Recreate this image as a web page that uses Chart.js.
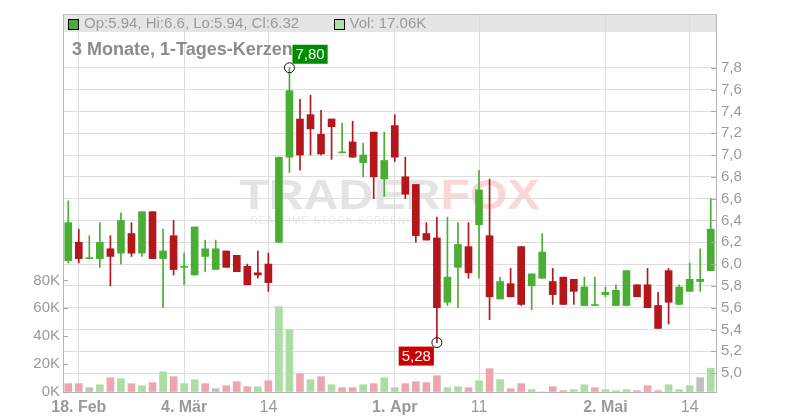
<!DOCTYPE html>
<html lang="de">
<head>
  <meta charset="UTF-8">
  <title>3 Monate, 1-Tages-Kerzen</title>
  <script src="https://cdn.jsdelivr.net/npm/chart.js"></script>
  <style>
    body { margin: 0; background: #fff; }
    canvas { display: block; }
  </style>
</head>
<body>
  <canvas id="kurs" width="800" height="420"></canvas>

  <script>
    const dates = [
      '17.02.', '18.02.', '19.02.', '20.02.', '21.02.', '24.02.', '25.02.', '26.02.', '27.02.', '28.02.',
      '03.03.', '04.03.', '05.03.', '06.03.', '07.03.', '10.03.', '11.03.', '12.03.', '13.03.', '14.03.',
      '17.03.', '18.03.', '19.03.', '20.03.', '21.03.', '24.03.', '25.03.', '26.03.', '27.03.', '28.03.', '31.03.',
      '01.04.', '02.04.', '03.04.', '04.04.', '07.04.', '08.04.', '09.04.', '10.04.', '11.04.',
      '14.04.', '15.04.', '16.04.', '17.04.', '22.04.', '23.04.', '24.04.', '25.04.', '28.04.', '29.04.', '30.04.',
      '02.05.', '05.05.', '06.05.', '07.05.', '08.05.', '09.05.', '12.05.', '13.05.', '14.05.', '15.05.', '16.05.'
    ];
    const open = [
      6.03, 6.20, 6.05, 6.05, 6.14, 6.10, 6.28, 6.10, 6.48, 6.05,
      6.26, 5.97, 5.90, 6.07, 5.95, 6.12, 6.08, 5.98, 5.92, 6.00,
      6.20, 6.98, 7.33, 7.37, 7.19, 7.33, 7.02, 7.12, 6.93, 7.21, 6.78,
      7.27, 6.80, 6.73, 6.28, 6.24, 5.65, 5.97, 6.16, 6.36,
      6.26, 5.68, 5.82, 6.16, 5.80, 5.87, 5.84, 5.88, 5.86, 5.62, 5.62,
      5.72, 5.62, 5.62, 5.81, 5.81, 5.62, 5.94, 5.63, 5.75, 5.84, 5.94
    ];
    const high = [
      6.58, 6.32, 6.26, 6.38, 6.26, 6.47, 6.38, 6.48, 6.48, 6.32,
      6.40, 6.10, 6.34, 6.22, 6.22, 6.12, 6.08, 6.00, 6.12, 6.10,
      6.98, 7.80, 7.51, 7.55, 7.41, 7.33, 7.29, 7.31, 7.11, 7.21, 7.21,
      7.37, 6.98, 6.73, 6.38, 6.43, 6.43, 6.38, 6.38, 6.86,
      6.78, 5.88, 5.96, 6.16, 5.91, 6.28, 5.96, 5.88, 5.86, 5.88, 5.88,
      5.79, 5.81, 5.94, 5.81, 5.96, 5.74, 5.96, 5.81, 6.01, 6.14, 6.60
    ];
    const low = [
      6.01, 6.01, 6.05, 5.97, 5.80, 6.00, 6.07, 6.07, 6.05, 5.60,
      5.90, 5.81, 5.90, 5.93, 5.95, 5.97, 5.93, 5.81, 5.87, 5.75,
      6.20, 6.84, 6.86, 7.00, 7.00, 6.96, 7.02, 6.98, 6.80, 6.60, 6.62,
      6.94, 6.60, 6.20, 6.22, 5.28, 5.62, 5.60, 5.87, 5.87,
      5.49, 5.68, 5.70, 5.62, 5.58, 5.87, 5.63, 5.63, 5.63, 5.62, 5.62,
      5.70, 5.62, 5.62, 5.70, 5.60, 5.41, 5.45, 5.63, 5.75, 5.75, 5.94
    ];
    const close = [
      6.38, 6.05, 6.05, 6.20, 6.07, 6.40, 6.10, 6.48, 6.05, 6.12,
      5.95, 5.97, 6.34, 6.14, 6.14, 5.97, 5.93, 5.81, 5.90, 5.83,
      6.98, 7.59, 7.00, 7.24, 7.01, 7.26, 7.02, 6.98, 7.00, 6.80, 6.95,
      6.98, 6.64, 6.26, 6.22, 5.60, 5.88, 6.18, 5.92, 6.68,
      5.70, 5.84, 5.70, 5.63, 5.91, 6.11, 5.72, 5.63, 5.75, 5.79, 5.62,
      5.74, 5.76, 5.94, 5.70, 5.60, 5.41, 5.65, 5.79, 5.86, 5.86, 6.32
    ];
    // Volumen in Tausend Stück
    const volume = [
      6.0, 6.0, 3.1, 5.2, 10.2, 9.5, 6.0, 4.5, 6.7, 14.5,
      11.0, 6.0, 8.8, 6.0, 2.4, 4.5, 7.4, 3.8, 3.8, 8.1,
      61.2, 44.5, 13.1, 8.8, 11.0, 5.2, 3.1, 3.1, 5.2, 6.0, 10.2,
      3.1, 6.0, 7.4, 6.7, 11.7, 3.1, 3.8, 3.1, 8.1,
      16.7, 8.8, 2.4, 6.0, 1.7, 0, 3.8, 1.0, 1.7, 5.2, 3.1,
      1.7, 1.0, 1.7, 1.0, 4.5, 1.0, 5.2, 1.7, 4.5, 10.2, 17.06
    ];
    const prevClose = 6.40;
    const tickDates = ['18.02.', '04.03.', '14.03.', '01.04.', '11.04.', '02.05.', '14.05.'];
    const tickLabels = ['18. Feb', '4. Mär', '14', '1. Apr', '11', '2. Mai', '14'];
    const priceTicks = [5.0, 5.2, 5.4, 5.6, 5.8, 6.0, 6.2, 6.4, 6.6, 6.8, 7.0, 7.2, 7.4, 7.6, 7.8];
    const volTicks = [0, 20, 40, 60, 80];

    const FONT = "'Liberation Sans', Arial, sans-serif";
    const GREEN = '#4aae35';
    const RED = '#b3171c';
    const tickIndex = tickDates.map(d => dates.indexOf(d));
    const candleColor = close.map((c, i) => c >= open[i] ? GREEN : RED);
    const volColor = close.map((c, i) => {
      const p = i ? close[i - 1] : prevClose;
      return c > p ? '#abdda4' : (c < p ? '#eea6ae' : '#c0c0c0');
    });
    const fmt = v => String(+v.toFixed(2));

    const deko = {
      id: 'deko',
      beforeDraw(chart) {
        const { ctx, chartArea: a } = chart;
        ctx.save();
        ctx.fillStyle = '#e5e5e5';
        ctx.fillRect(a.left, a.top, a.right - a.left, 18);

        // Wasserzeichen
        ctx.font = 'bold 42px ' + FONT;
        const w1 = ctx.measureText('TRADER').width;
        const w2 = ctx.measureText('FOX').width;
        const sx = 1.15;
        const cx = (a.left + a.right) / 2;
        ctx.translate(cx - (w1 + w2) * sx / 2, a.top + 195);
        ctx.scale(sx, 1);
        ctx.textBaseline = 'alphabetic';
        ctx.fillStyle = '#e4e4e4';
        ctx.fillText('TRADER', 0, 0);
        ctx.fillStyle = '#fbd6d9';
        ctx.fillText('FOX', w1, 0);
        ctx.restore();

        ctx.save();
        ctx.font = '10px ' + FONT;
        ctx.letterSpacing = '1.2px';
        ctx.fillStyle = '#e9e9e9';
        ctx.textBaseline = 'middle';
        ctx.fillText('REALTIME STOCK SCREENING', cx - 139, a.top + 207);
        ctx.restore();
      },
      beforeDatasetsDraw(chart) {
        const { ctx, chartArea: a } = chart;
        ctx.save();
        ctx.font = 'bold 18px ' + FONT;
        ctx.fillStyle = '#8c8c8c';
        ctx.textBaseline = 'middle';
        ctx.fillText('3 Monate, 1-Tages-Kerzen', a.left + 9, a.top + 36);
        ctx.restore();
      },
      afterDraw(chart) {
        const { ctx, chartArea: a } = chart;
        const xs = chart.scales.x, yp = chart.scales.yPrice, yv = chart.scales.yVol;
        ctx.save();
        ctx.strokeStyle = '#c4c4c4';
        ctx.lineWidth = 1;
        ctx.beginPath();
        ctx.moveTo(a.left, a.top + 0.5);
        ctx.lineTo(a.right, a.top + 0.5);
        ctx.stroke();

        // Tick-Striche nach innen
        ctx.strokeStyle = '#aaa';
        ctx.beginPath();
        volTicks.forEach(v => {
          const y = Math.round(yv.getPixelForValue(v)) + 0.5;
          ctx.moveTo(a.left, y);
          ctx.lineTo(a.left + 5, y);
        });
        priceTicks.forEach(v => {
          const y = Math.round(yp.getPixelForValue(v)) + 0.5;
          ctx.moveTo(a.right - 5, y);
          ctx.lineTo(a.right, y);
        });
        ctx.stroke();

        // Legende im grauen Band
        const last = dates.length - 1;
        ctx.font = '15px ' + FONT;
        ctx.textBaseline = 'middle';
        const ly = a.top + 10;
        ctx.fillStyle = GREEN;
        ctx.fillRect(a.left + 5.5, a.top + 5.5, 10, 10);
        ctx.strokeStyle = '#000';
        ctx.strokeRect(a.left + 5.5, a.top + 5.5, 10, 10);
        const txt = `Op:${fmt(open[last])}, Hi:${fmt(high[last])}, Lo:${fmt(low[last])}, Cl:${fmt(close[last])}`;
        ctx.fillStyle = '#9a9a9a';
        ctx.fillText(txt, a.left + 21, ly);
        const vx = Math.round(a.left + 21 + ctx.measureText(txt).width + 35) + 0.5;
        ctx.fillStyle = '#b0e0a9';
        ctx.fillRect(vx, a.top + 5.5, 10, 10);
        ctx.strokeRect(vx, a.top + 5.5, 10, 10);
        ctx.fillStyle = '#9a9a9a';
        ctx.fillText('Vol: ' + volume[last].toFixed(2) + 'K', vx + 15, ly);

        // Hoch / Tief Markierung
        const iMax = high.indexOf(Math.max(...high));
        const iMin = low.indexOf(Math.min(...low));
        const marks = [
          { i: iMax, v: high[iMax], up: true, bg: '#008c00' },
          { i: iMin, v: low[iMin], up: false, bg: '#cc0000' }
        ];
        marks.forEach(m => {
          const px = xs.getPixelForValue(m.i);
          const py = yp.getPixelForValue(m.v);
          ctx.strokeStyle = '#111';
          ctx.beginPath();
          ctx.arc(px, py, 5, 0, Math.PI * 2);
          ctx.stroke();
          const label = m.v.toFixed(2).replace('.', ',');
          const w = ctx.measureText(label).width + 6;
          const bx = m.up ? px + 3 : px - 3 - w;
          const by = m.up ? py - 4 - 19 : py + 4;
          ctx.fillStyle = m.bg;
          ctx.fillRect(bx, by, w, 19);
          ctx.fillStyle = '#fff';
          ctx.fillText(label, bx + 3, by + 10);
        });
        ctx.restore();
      }
    };

    new Chart(document.getElementById('kurs'), {
      type: 'bar',
      data: {
        labels: dates,
        datasets: [
          {
            label: 'Kerze',
            data: open.map((o, i) => [o, close[i]]),
            backgroundColor: candleColor,
            barThickness: 7,
            minBarLength: 1,
            grouped: false,
            yAxisID: 'yPrice',
            order: 1
          },
          {
            label: 'Docht',
            data: low.map((l, i) => [l, high[i]]),
            backgroundColor: candleColor,
            barThickness: 1,
            grouped: false,
            yAxisID: 'yPrice',
            order: 2
          },
          {
            label: 'Volumen',
            data: volume,
            backgroundColor: volColor,
            barThickness: 7,
            grouped: false,
            yAxisID: 'yVol',
            order: 3
          }
        ]
      },
      options: {
        responsive: false,
        animation: false,
        events: [],
        layout: { padding: { top: 12, left: 0, right: 0, bottom: 0 } },
        plugins: { legend: { display: false }, tooltip: { enabled: false } },
        scales: {
          x: {
            offset: true,
            afterFit(s) { s.height = 28; },
            grid: {
              offset: false,
              drawTicks: false,
              color: c => tickIndex.includes(c.index) ? '#dcdcdc' : 'rgba(0,0,0,0)'
            },
            border: { color: '#b4b4b4' },
            ticks: {
              autoSkip: false,
              maxRotation: 0,
              minRotation: 0,
              padding: 6,
              color: '#9a9a9a',
              font: c => {
                const k = tickIndex.indexOf(c.index);
                const bold = k >= 0 && /[A-Za-zä]/.test(tickLabels[k]);
                return { family: FONT, size: 16, weight: bold ? 'bold' : 'normal' };
              },
              callback: (v, i) => {
                const k = tickIndex.indexOf(i);
                return k >= 0 ? tickLabels[k] : '';
              }
            }
          },
          yVol: {
            position: 'left',
            min: 0,
            max: 271,
            afterFit(s) { s.width = 63; },
            afterBuildTicks(s) { s.ticks = volTicks.map(v => ({ value: v })); },
            grid: { drawOnChartArea: false, drawTicks: false },
            border: { color: '#b4b4b4' },
            ticks: {
              padding: 3,
              color: '#9a9a9a',
              font: { family: FONT, size: 15 },
              callback: v => v + 'K'
            }
          },
          yPrice: {
            position: 'right',
            min: 4.827,
            max: 8.293,
            afterFit(s) { s.width = 84; },
            afterBuildTicks(s) { s.ticks = priceTicks.map(v => ({ value: v })); },
            grid: { color: '#dedede', drawTicks: false },
            border: { color: '#b4b4b4' },
            ticks: {
              padding: 5,
              color: '#9a9a9a',
              font: { family: FONT, size: 15 },
              callback: v => v.toFixed(1).replace('.', ',')
            }
          }
        }
      },
      plugins: [deko]
    });
  </script>
</body>
</html>
